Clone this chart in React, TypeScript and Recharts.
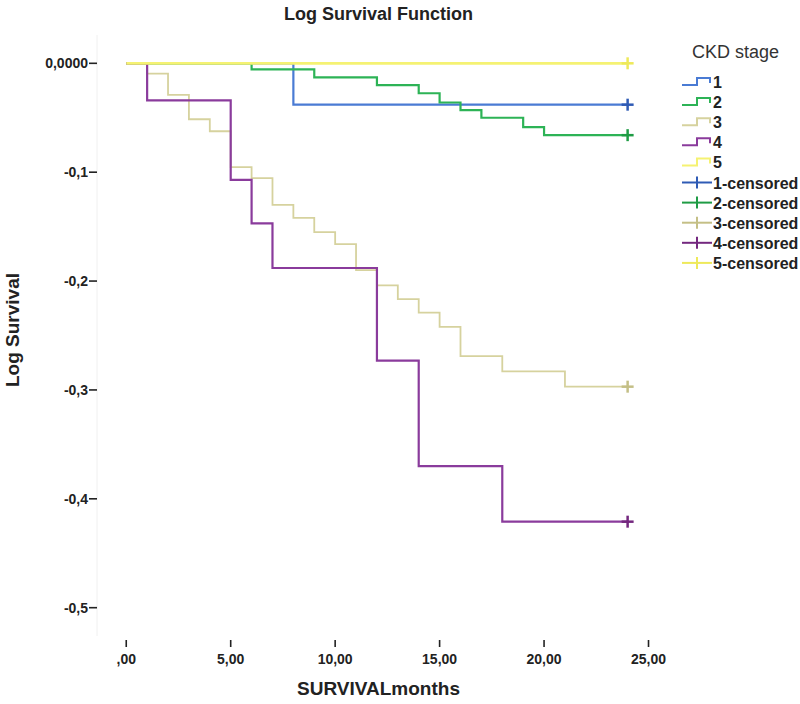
import React from 'react';
import { ComposedChart, Line, Scatter, XAxis, YAxis } from 'recharts';

// ---- Data ----
const stage1Months = [0, 8, 24];
const stage1LogSurv = [0, -0.038, -0.038];

const stage2Months = [0, 6, 9, 12, 14, 15, 16, 17, 19, 20, 24];
const stage2LogSurv = [0, -0.0055, -0.013, -0.02, -0.0275, -0.036, -0.043, -0.05, -0.0587, -0.066, -0.066];

const stage3Months = [0, 1, 2, 3, 4, 5, 6, 7, 8, 9, 10, 11, 12, 13, 14, 15, 16, 18, 21, 24];
const stage3LogSurv = [0, -0.0095, -0.029, -0.0514, -0.0624, -0.0954, -0.1055, -0.13, -0.142, -0.155, -0.166, -0.19, -0.204, -0.2165, -0.229, -0.242, -0.269, -0.283, -0.297, -0.297];

const stage4Months = [0, 1, 5, 6, 7, 12, 14, 18, 24];
const stage4LogSurv = [0, -0.034, -0.107, -0.147, -0.188, -0.273, -0.37, -0.421, -0.421];

const stage5Months = [0, 24];
const stage5LogSurv = [0, 0];

const censorMonth = 24;

const xTicks = [0, 5, 10, 15, 20, 25];
const xTickLabels = [',00', '5,00', '10,00', '15,00', '20,00', '25,00'];
const yTicks = [0, -0.1, -0.2, -0.3, -0.4, -0.5];
const yTickLabels = ['0,0000', '-0,1', '-0,2', '-0,3', '-0,4', '-0,5'];

const stageNames = ['1', '2', '3', '4', '5'];
const stageColors = ['#4a7bd4', '#2db356', '#d6d29e', '#8a3b9c', '#f5f272'];
const censorColors = ['#2f5bb5', '#1f9c45', '#c4bf86', '#74287f', '#eee95a'];

const FONT = '"Liberation Sans", Arial, sans-serif';

const toRows = (t: number[], v: number[]) => t.map((m, i) => ({ t: m, v: v[i] }));

const series = [
  toRows(stage1Months, stage1LogSurv),
  toRows(stage2Months, stage2LogSurv),
  toRows(stage3Months, stage3LogSurv),
  toRows(stage4Months, stage4LogSurv),
  toRows(stage5Months, stage5LogSurv),
];

const censored = series.map((rows) => [{ t: censorMonth, v: rows[rows.length - 1].v }]);

const makePlus = (color: string) => (props: any) => {
  const { cx, cy } = props;
  return (
    <g>
      <line x1={cx - 6} x2={cx + 6} y1={cy} y2={cy} stroke={color} strokeWidth={2.5} />
      <line x1={cx} x2={cx} y1={cy - 6} y2={cy + 6} stroke={color} strokeWidth={2.5} />
    </g>
  );
};

const XTick = (props: any) => {
  const { x, y, payload } = props;
  const idx = xTicks.indexOf(payload.value);
  return (
    <g>
      <line x1={x} x2={x} y1={y + 4} y2={y + 11} stroke="#222" strokeWidth={1.6} />
      <text x={x} y={y + 28} textAnchor="middle" fontFamily={FONT} fontSize={14} fontWeight="bold" fill="#222">
        {idx >= 0 ? xTickLabels[idx] : ''}
      </text>
    </g>
  );
};

const YTick = (props: any) => {
  const { x, y, payload } = props;
  const idx = yTicks.findIndex((v) => Math.abs(v - payload.value) < 1e-9);
  return (
    <text x={x} y={y + 5} textAnchor="end" fontFamily={FONT} fontSize={14} fontWeight="bold" fill="#222">
      {idx >= 0 ? yTickLabels[idx] : ''}
    </text>
  );
};

const LegendBox = () => {
  const items = [
    ...stageNames.map((n, i) => ({ label: n, color: stageColors[i], censor: false })),
    ...stageNames.map((n, i) => ({ label: `${n}-censored`, color: censorColors[i], censor: true })),
  ];
  const top = 82;
  const step = 20.1;
  return (
    <svg width={130} height={290} style={{ position: 'absolute', left: 670, top: 0 }}>
      <text x={22} y={58} fontFamily={FONT} fontSize={18} fill="#333">CKD stage</text>
      {items.map((it, i) => {
        const cy = top + i * step;
        return (
          <g key={it.label}>
            {it.censor ? (
              <g>
                <line x1={12} x2={42} y1={cy} y2={cy} stroke={it.color} strokeWidth={2} />
                <line x1={27} x2={27} y1={cy - 6} y2={cy + 6} stroke={it.color} strokeWidth={2} />
              </g>
            ) : (
              <polyline
                points={`12,${cy + 3} 27,${cy + 3} 27,${cy - 4} 40,${cy - 4} 40,${cy + 1}`}
                fill="none"
                stroke={it.color}
                strokeWidth={2}
              />
            )}
            <text x={43} y={cy + 6} fontFamily={FONT} fontSize={16} fontWeight="bold" fill="#222">
              {it.label}
            </text>
          </g>
        );
      })}
    </svg>
  );
};

export default function App() {
  return (
    <div style={{ position: 'absolute', left: 0, top: 0, width: 800, height: 704, background: '#fff', fontFamily: FONT }}>
      <div
        style={{
          position: 'absolute', left: 97, width: 563, top: 2, textAlign: 'center',
          fontSize: 18, fontWeight: 'bold', color: '#222', lineHeight: '24px',
        }}
      >
        Log Survival Function
      </div>
      <div
        style={{
          position: 'absolute', left: 97, width: 563, top: 677, textAlign: 'center',
          fontSize: 19, fontWeight: 'bold', color: '#222', lineHeight: '24px',
        }}
      >
        SURVIVALmonths
      </div>
      <div
        style={{
          position: 'absolute', left: 13 - 100, top: 330 - 12, width: 200, textAlign: 'center',
          fontSize: 19, fontWeight: 'bold', color: '#222', lineHeight: '24px',
          transform: 'rotate(-90deg)',
        }}
      >
        Log Survival
      </div>
      <div style={{ position: 'absolute', left: 0, top: 0 }}>
        <ComposedChart width={800} height={704} margin={{ top: 35, right: 140, bottom: 0, left: 0 }}>
          <XAxis
            dataKey="t"
            type="number"
            domain={[-1.4, 25.55]}
            ticks={xTicks}
            allowDataOverflow
            axisLine={false}
            tickLine={false}
            tickSize={0}
            tickMargin={0}
            height={68}
            tick={<XTick />}
            interval={0}
          />
          <YAxis
            dataKey="v"
            type="number"
            domain={[-0.526, 0.026]}
            ticks={yTicks}
            allowDataOverflow
            width={97}
            axisLine={{ stroke: '#f0f0f0', strokeWidth: 1 }}
            tickLine={{ stroke: '#222', strokeWidth: 1.6 }}
            tickSize={8}
            tickMargin={1}
            tick={<YTick />}
            interval={0}
          />
          {series.map((rows, i) => (
            <Line
              key={`line-${i}`}
              data={rows}
              dataKey="v"
              type="stepAfter"
              stroke={stageColors[i]}
              strokeWidth={i === 4 ? 2.8 : i === 2 ? 1.8 : 2.2}
              dot={false}
              activeDot={false}
              isAnimationActive={false}
              name={stageNames[i]}
            />
          ))}
          {censored.map((rows, i) => (
            <Scatter
              key={`cens-${i}`}
              data={rows}
              dataKey="v"
              shape={makePlus(censorColors[i])}
              isAnimationActive={false}
              name={`${stageNames[i]}-censored`}
            />
          ))}
        </ComposedChart>
      </div>
      <LegendBox />
    </div>
  );
}
